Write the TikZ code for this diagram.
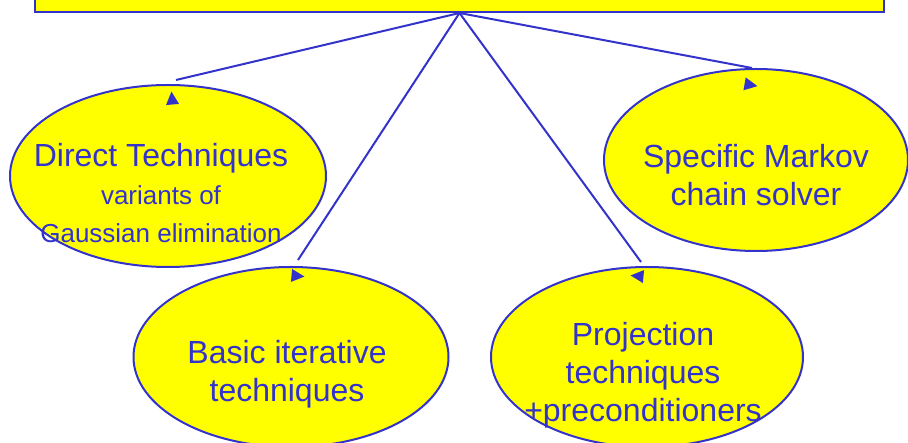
\documentclass[tikz,border=0pt]{standalone}
\usepackage{fontspec}
\setmainfont{Liberation Sans}
\usetikzlibrary{shapes.geometric, positioning}
\definecolor{slideblue}{RGB}{51, 51, 204}
\definecolor{slideyellow}{RGB}{255, 255, 0}
\tikzset{
	method/.style={ellipse, draw=slideblue, line width=2pt, fill=slideyellow, inner sep=0pt},
	methodtext/.style={text=slideblue, align=center, inner sep=0pt, font=\fontsize{32}{38}\selectfont},
	rootbox/.style={rectangle, draw=slideblue, line width=2pt, fill=slideyellow, inner sep=0pt},
	link/.style={draw=slideblue, line width=2pt}
}
\newcommand{\subline}{\fontsize{26}{32}\selectfont}
% small triangle marks below the line ends
\newcommand{\tipmark}[2]{\fill[slideblue, shift={(#1)}, rotate=#2] (6.5,0) -- (-6.5,6.5) -- (-6.5,-6.5) -- cycle;}

\begin{document}
\begin{tikzpicture}[x=1pt, y=-1pt]
\useasboundingbox (0,0) rectangle (908,443);

% --- TOP BOX (cut off by the page) ---
\node[rootbox, minimum width=849pt, minimum height=50pt] (root) at (459.5,-13) {};

% --- METHOD ELLIPSES ---
\node[method, minimum width=316pt, minimum height=182pt] (direct) at (168,176) {};
\node[method, minimum width=315pt, minimum height=180pt] (basic) at (291,357) {};
\node[method, minimum width=312pt, minimum height=180pt] (projection) at (647,357) {};
\node[method, minimum width=304pt, minimum height=182pt] (markov) at (756,160) {};

% texts
\node[methodtext] (directText) at (161,193) {Direct Techniques\\ \subline variants of\\ \subline Gaussian elimination};
\node[methodtext] (basicText) at (287,374) {Basic iterative\\ techniques};
\node[methodtext] (projectionText) at (643,375) {Projection\\ techniques\\ +preconditioners};
\node[methodtext] (markovText) at (756,175) {Specific Markov\\ chain solver};

% --- CONNECTORS ---
\coordinate (directEnd) at (176,80);
\coordinate (basicEnd) at (298,260);
\coordinate (projectionEnd) at (641,262);
\coordinate (markovEnd) at (752,68);

\draw[link] (root.south) -- (directEnd);
\draw[link] (root.south) -- (basicEnd);
\draw[link] (root.south) -- (projectionEnd);
\draw[link] (root.south) -- (markovEnd);

\tipmark{172,98}{95}
\tipmark{298,276}{-5}
\tipmark{637,276}{175}
\tipmark{751,85}{-10}

\end{tikzpicture}
\end{document}
